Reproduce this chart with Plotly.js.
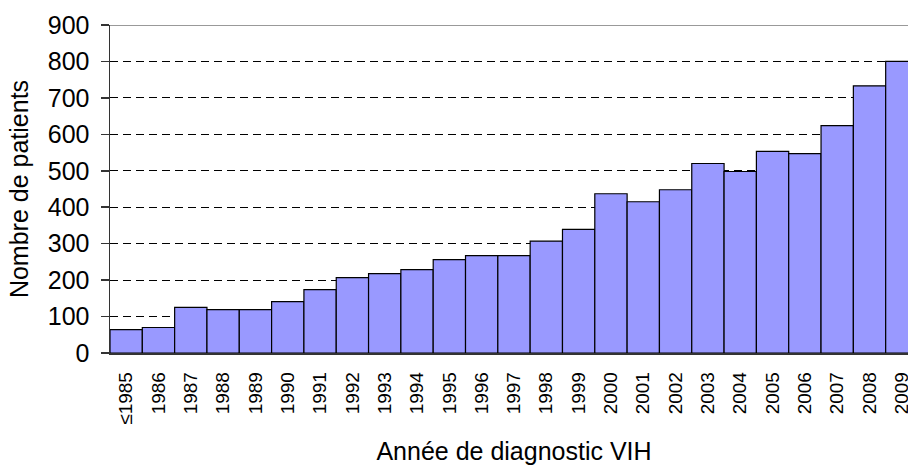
<!DOCTYPE html>
<html>
<head>
<meta charset="utf-8">
<script src="https://cdn.plot.ly/plotly-3.0.1.min.js"></script>
<style>
html, body { margin: 0; padding: 0; overflow: hidden; background: #fff; }
#chart { width: 918px; height: 465px; }
</style>
</head>
<body>
<div id="chart"></div>
<script>
const years = ["≤1985","1986","1987","1988","1989","1990","1991","1992","1993","1994","1995","1996","1997","1998","1999","2000","2001","2002","2003","2004","2005","2006","2007","2008","2009"];
const patients = [64, 70, 125, 119, 119, 141, 174, 207, 218, 229, 256, 267, 267, 307, 339, 437, 415, 448, 520, 498, 553, 547, 624, 733, 800];
const yTicks = [0, 100, 200, 300, 400, 500, 600, 700, 800, 900];

const FONT = "Liberation Sans, Arial, sans-serif";

const trace = {
  type: "bar",
  x: years,
  y: patients,
  marker: { color: "#9999ff", line: { color: "#000000", width: 1.2 } },
  hoverinfo: "x+y"
};

const layout = {
  width: 918,
  height: 465,
  margin: { l: 110, r: 0, t: 25, b: 112 },
  paper_bgcolor: "#ffffff",
  plot_bgcolor: "#ffffff",
  bargap: 0,
  showlegend: false,
  font: { family: FONT, color: "#000000" },
  xaxis: {
    type: "category",
    range: [-0.5, 24.5],
    tickangle: -90,
    tickfont: { family: FONT, size: 19, color: "#000000" },
    ticks: "",
    ticklabelstandoff: 10,
    showline: true,
    linecolor: "#333333",
    linewidth: 1.5,
    showgrid: false,
    zeroline: false,
    fixedrange: true,
    title: { text: "Année de diagnostic VIH", font: { family: FONT, size: 25, color: "#000000" }, standoff: 18 },
    automargin: false
  },
  yaxis: {
    range: [0, 900],
    tickvals: yTicks,
    ticktext: yTicks.map(String),
    tickfont: { family: FONT, size: 25, color: "#000000" },
    ticks: "outside",
    ticklen: 8,
    tickwidth: 1.5,
    tickcolor: "#333333",
    ticklabelstandoff: 6,
    showline: true,
    linecolor: "#333333",
    linewidth: 1.5,
    showgrid: true,
    gridcolor: "#000000",
    gridwidth: 1,
    griddash: "8px,5px",
    zeroline: false,
    fixedrange: true,
    title: { text: "Nombre de patients", font: { family: FONT, size: 25, color: "#000000" }, standoff: 12 },
    automargin: false
  },
  shapes: [
    { type: "line", xref: "paper", yref: "y", x0: 0, x1: 1, y0: 900, y1: 900,
      line: { color: "#999999", width: 2 }, layer: "above" }
  ]
};

Plotly.newPlot("chart", [trace], layout, { displayModeBar: false, staticPlot: true });
</script>
</body>
</html>
